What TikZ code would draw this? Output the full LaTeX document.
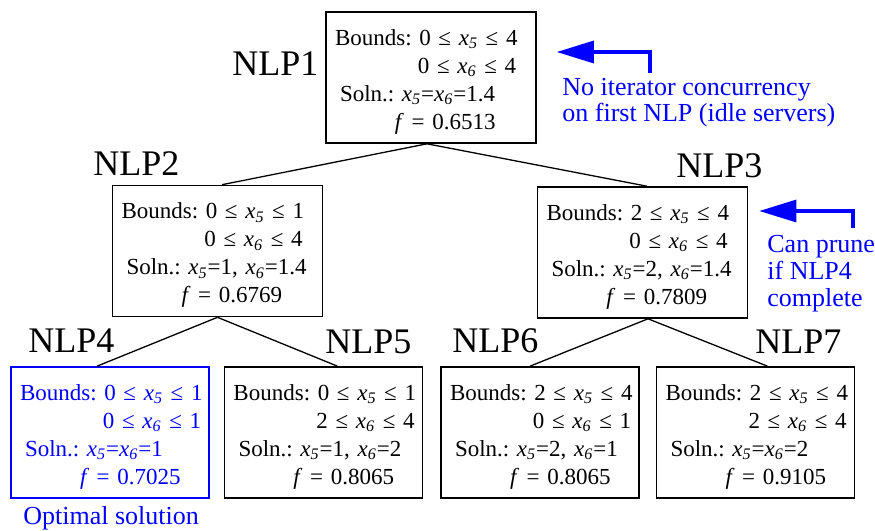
\documentclass[tikz,border=0pt]{standalone}
\usepackage{fontspec}
\setmainfont{Liberation Serif}
\usepackage{tikz}
\usetikzlibrary{arrows.meta, positioning}
\definecolor{noteblue}{HTML}{0000FF}
\frenchspacing

\newcommand{\xv}[1]{\textit{x}\textsubscript{\textit{#1}}}
\newcommand{\nlpbody}[4]{\rule{0pt}{12pt}\hspace*{4.5pt}\mbox{Bounds: #1}\\
  \hspace*{46pt}\mbox{#2}\\
  \hspace*{7pt}\mbox{Soln.: #3}\\
  \hspace*{34.5pt}\mbox{\textit{f}~= #4}}

\begin{document}
\begin{tikzpicture}[x=0.5pt, y=-0.5pt,
    nlp box/.style={rectangle, draw=#1, text=#1, line width=0.8pt,
                    text width=105pt, minimum height=65.5pt,
                    inner xsep=0pt, inner ysep=0pt, align=left,
                    font=\fontsize{11.5}{14}\selectfont},
    nlp box/.default={black},
    leaf box/.style={nlp box=#1, text width=99pt},
    leaf box/.default={black},
    nlp label/.style={inner sep=0pt, anchor=base west,
                      font=\fontsize{18}{20}\selectfont},
    tree edge/.style={line width=0.65pt},
    note text/.style={inner sep=0pt, anchor=base west, text=noteblue, align=left,
                      font=\fontsize{13}{#1}\selectfont},
    note text/.default={13},
    note arrow/.style={-{Triangle[length=18.5pt, width=11pt]}, line width=1.6pt,
                       color=noteblue},
]
    \useasboundingbox (0,0) rectangle (875,531);

    % ── Root ──
    \node[nlp box] (nlp1) at (431,77.5)
        {\nlpbody{0 ≤ \xv5 ≤ 4}{0 ≤ \xv6 ≤ 4}{\xv5=\xv6=1.4}{0.6513}};
    \node[nlp label] (lab1) at (232,75) {NLP1};

    % ── Second level ──
    \node[nlp box] (nlp2) at (217.5,251)
        {\nlpbody{0 ≤ \xv5 ≤ 1}{0 ≤ \xv6 ≤ 4}{\xv5=1, \xv6=1.4}{0.6769}};
    \node[nlp box] (nlp3) at (642.5,252.5)
        {\nlpbody{2 ≤ \xv5 ≤ 4}{0 ≤ \xv6 ≤ 4}{\xv5=2, \xv6=1.4}{0.7809}};
    \node[nlp label] (lab2) at (93,175) {NLP2};
    \node[nlp label] (lab3) at (676,177) {NLP3};

    % ── Leaves ──
    \node[leaf box=noteblue] (nlp4) at (110,432.5)
        {\nlpbody{0 ≤ \xv5 ≤ 1}{0 ≤ \xv6 ≤ 1}{\xv5=\xv6=1}{0.7025}};
    \node[leaf box] (nlp5) at (323.5,432.5)
        {\nlpbody{0 ≤ \xv5 ≤ 1}{2 ≤ \xv6 ≤ 4}{\xv5=1, \xv6=2}{0.8065}};
    \node[leaf box] (nlp6) at (540,432.5)
        {\nlpbody{2 ≤ \xv5 ≤ 4}{0 ≤ \xv6 ≤ 1}{\xv5=2, \xv6=1}{0.8065}};
    \node[leaf box] (nlp7) at (755.5,432.5)
        {\nlpbody{2 ≤ \xv5 ≤ 4}{2 ≤ \xv6 ≤ 4}{\xv5=\xv6=2}{0.9105}};
    \node[nlp label] (lab4) at (28,352) {NLP4};
    \node[nlp label] (lab5) at (325,353) {NLP5};
    \node[nlp label] (lab6) at (452,352) {NLP6};
    \node[nlp label] (lab7) at (755,353) {NLP7};

    \draw[tree edge] ([xshift=-2pt]nlp1.south) -- ([xshift=2.25pt]nlp2.north);
    \draw[tree edge] ([xshift=-2pt]nlp1.south) -- ([xshift=2.25pt]nlp3.north);
    \draw[tree edge] (nlp2.south) -- ([xshift=-6.5pt]nlp4.north);
    \draw[tree edge] (nlp2.south) -- ([xshift=7pt]nlp5.north);
    \draw[tree edge] ([xshift=2.75pt]nlp3.south) -- ([xshift=-5pt]nlp6.north);
    \draw[tree edge] ([xshift=2.75pt]nlp3.south) -- ([xshift=6pt]nlp7.north);

    % ── Notes ──
    \coordinate (tail1) at (650,73);
    \coordinate (bend1) at (650,52);
    \draw[note arrow, shorten >=10pt] (tail1) -- (bend1) -- (nlp1.east |- bend1);
    \node[note text=11] (note1) at (562,121.7)
        {No iterator concurrency\\on first NLP (idle servers)};

    \coordinate (tail2) at (853,228);
    \coordinate (bend2) at (853,211);
    \draw[note arrow, shorten >=5.5pt] (tail2) -- (bend2) -- (nlp3.east |- bend2);
    \node[note text=13.3] (note2) at (767,306) {Can prune\\if NLP4\\complete};

    \node[note text] (optimal) at (23,524) {Optimal solution};

\end{tikzpicture}
\end{document}
